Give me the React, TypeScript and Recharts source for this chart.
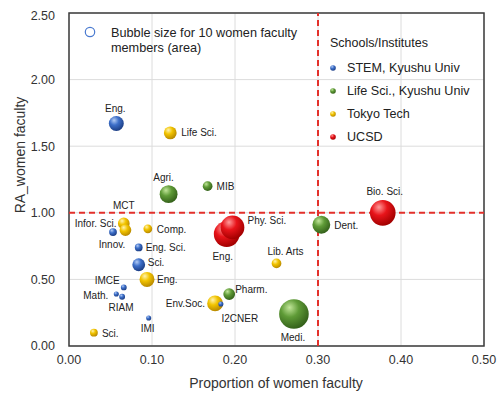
import {
  CartesianGrid,
  LabelList,
  ReferenceArea,
  ReferenceLine,
  Scatter,
  ScatterChart,
  XAxis,
  YAxis,
  ZAxis,
} from "recharts";

type Pt = { name: string; x: number; y: number; z: number };

// z = number of women faculty (bubble area)
const xTicks = [0, 0.1, 0.2, 0.3, 0.4, 0.5];
const yTicks = [0, 0.5, 1, 1.5, 2, 2.5];

const stemKyushu: Pt[] = [
  { name: "Eng.", x: 0.057, y: 1.67, z: 26 },
  { name: "Innov.", x: 0.053, y: 0.855, z: 7 },
  { name: "Eng. Sci.", x: 0.084, y: 0.74, z: 7 },
  { name: "Sci.", x: 0.084, y: 0.61, z: 19 },
  { name: "IMCE", x: 0.066, y: 0.44, z: 4 },
  { name: "Math.", x: 0.057, y: 0.39, z: 3 },
  { name: "RIAM", x: 0.064, y: 0.37, z: 4 },
  { name: "IMI", x: 0.096, y: 0.21, z: 3 },
  { name: "I2CNER", x: 0.183, y: 0.315, z: 3 },
];

const lifeKyushu: Pt[] = [
  { name: "Agri.", x: 0.12, y: 1.14, z: 37 },
  { name: "MIB", x: 0.167, y: 1.2, z: 11 },
  { name: "Dent.", x: 0.304, y: 0.91, z: 37 },
  { name: "Pharm.", x: 0.193, y: 0.39, z: 16 },
  { name: "Medi.", x: 0.271, y: 0.24, z: 102 },
];

const tokyoTech: Pt[] = [
  { name: "Life Sci.", x: 0.122, y: 1.6, z: 19 },
  { name: "MCT", x: 0.066, y: 0.92, z: 16 },
  { name: "Infor. Sci.", x: 0.068, y: 0.87, z: 16 },
  { name: "Comp.", x: 0.095, y: 0.88, z: 9 },
  { name: "Eng.", x: 0.094, y: 0.5, z: 26 },
  { name: "Lib. Arts", x: 0.25, y: 0.62, z: 11 },
  { name: "Env.Soc.", x: 0.176, y: 0.32, z: 29 },
  { name: "Sci.", x: 0.03, y: 0.1, z: 7 },
];

const ucsd: Pt[] = [
  { name: "Eng.", x: 0.19, y: 0.84, z: 77 },
  { name: "Phy. Sci.", x: 0.197, y: 0.89, z: 65 },
  { name: "Bio. Sci.", x: 0.378, y: 1.0, z: 77 },
];

const legendNames = ["STEM, Kyushu Univ", "Life Sci., Kyushu Univ", "Tokyo Tech", "UCSD"];
const legendKeys = ["blue", "green", "yellow", "red"];

const shades: Record<string, [string, string, string]> = {
  blue: ["#b3ccf5", "#3d6fc9", "#1d3f86"],
  green: ["#c2e69a", "#5f9b37", "#35621b"],
  yellow: ["#fff3b0", "#f2c400", "#b98a00"],
  red: ["#ff9a9a", "#e8141a", "#a30000"],
};

// label offsets from the bubble centre: [dx, dy, anchor]
const labelPos: Record<string, [number, number, "start" | "middle" | "end"]> = {
  "blue:Eng.": [-1, -15, "middle"],
  "blue:Innov.": [-1, 12, "middle"],
  "blue:Eng. Sci.": [7, 0, "start"],
  "blue:Sci.": [9, -2, "start"],
  "blue:IMCE": [-4, -7, "end"],
  "blue:Math.": [-8, 1, "end"],
  "blue:RIAM": [-1, 11, "middle"],
  "blue:IMI": [-1, 10, "middle"],
  "blue:I2CNER": [19, 14, "middle"],
  "green:Agri.": [-5, -17, "middle"],
  "green:MIB": [9, 0, "start"],
  "green:Dent.": [13, 1, "start"],
  "green:Pharm.": [6, -5, "start"],
  "green:Medi.": [-1, 23, "middle"],
  "yellow:Life Sci.": [11, 0, "start"],
  "yellow:MCT": [0, -18, "middle"],
  "yellow:Infor. Sci.": [-9, -7, "end"],
  "yellow:Comp.": [9, 1, "start"],
  "yellow:Eng.": [10, 0, "start"],
  "yellow:Lib. Arts": [9, -12, "middle"],
  "yellow:Env.Soc.": [-10, 0, "end"],
  "yellow:Sci.": [8, 1, "start"],
  "red:Phy. Sci.": [15, -7, "start"],
  "red:Eng.": [-4, 22, "middle"],
  "red:Bio. Sci.": [2, -21, "middle"],
};

const font = "'Liberation Sans', Arial, Helvetica, sans-serif";

const makeLabel = (key: string) => (props: any) => {
  const vb = props.viewBox ?? props;
  const cx = vb.width !== undefined ? vb.x + vb.width / 2 : vb.x;
  const cy = vb.height !== undefined ? vb.y + vb.height / 2 : vb.y;
  const [dx, dy, anchor] = labelPos[`${key}:${props.value}`] ?? [0, -12, "middle"];
  return (
    <text
      x={cx + dx}
      y={cy + dy}
      textAnchor={anchor}
      dominantBaseline="central"
      fontSize={10}
      fontFamily={font}
      fill="#222"
    >
      {props.value}
    </text>
  );
};

const fmt = (v: number) => v.toFixed(2);

const App = () => {
  const series: [string, Pt[]][] = [
    ["yellow", tokyoTech],
    ["green", lifeKyushu],
    ["blue", stemKyushu],
    ["red", ucsd],
  ];
  return (
    <div style={{ width: 500, height: 398, padding: "8px 0 0 8px", boxSizing: "border-box" }}>
      <style>{"body{margin:0}"}</style>
      <div style={{ position: "relative", width: 492, height: 390, fontFamily: font }}>
        <svg
          width={492}
          height={390}
          style={{ position: "absolute", left: 0, top: 0, pointerEvents: "none", zIndex: 2 }}
        >
          <defs>
            {Object.entries(shades).map(([k, [hi, mid, lo]]) => (
              <radialGradient key={k} id={`g-${k}`} cx="38%" cy="32%" r="68%" fx="35%" fy="28%">
                <stop offset="0%" stopColor={hi} />
                <stop offset="45%" stopColor={mid} />
                <stop offset="100%" stopColor={lo} />
              </radialGradient>
            ))}
          </defs>
          <circle cx={82} cy={24} r={4.7} fill="none" stroke="#4a7ad0" strokeWidth={1.2} />
          <text x={103} y={25} fontSize={12.7} fill="#222" dominantBaseline="central">
            Bubble size for 10 women faculty
          </text>
          <text x={103} y={39.5} fontSize={12.7} fill="#222" dominantBaseline="central">
            members (area)
          </text>
          <text x={322} y={35} fontSize={12.5} fill="#222" dominantBaseline="central">
            Schools/Institutes
          </text>
          {legendNames.map((n, i) => (
            <g key={n}>
              <circle cx={325} cy={60 + i * 23} r={2.8} fill={`url(#g-${legendKeys[i]})`} />
              <text x={339} y={60 + i * 23} fontSize={12.6} fill="#222" dominantBaseline="central">
                {n}
              </text>
            </g>
          ))}
          <text
            x={12}
            y={147}
            fontSize={14}
            fill="#333"
            textAnchor="middle"
            dominantBaseline="central"
            transform="rotate(-90 12 147)"
          >
            RA_women faculty
          </text>
          <text x={268} y={375} fontSize={14} fill="#333" textAnchor="middle" dominantBaseline="central">
            Proportion of women faculty
          </text>
        </svg>
        <ScatterChart width={492} height={390} margin={{ top: 5, right: 16, bottom: 2, left: 0 }}>
          <CartesianGrid stroke="#dcdcdc" />
          <XAxis
            type="number"
            dataKey="x"
            domain={[0, 0.5]}
            ticks={xTicks}
            tickFormatter={fmt}
            axisLine={false}
            tickLine={false}
            tickMargin={3}
            height={50}
            tick={{ fontSize: 12.5, fill: "#333", fontFamily: font }}
          />
          <YAxis
            type="number"
            dataKey="y"
            domain={[0, 2.5]}
            ticks={yTicks}
            tickFormatter={fmt}
            axisLine={false}
            tickLine={false}
            tickMargin={8}
            width={61}
            tick={{ fontSize: 12.5, fill: "#333", fontFamily: font }}
          />
          <ZAxis type="number" dataKey="z" domain={[0, 100]} range={[0, 690]} />
          <ReferenceLine x={0.3} stroke="#e3302b" strokeWidth={2} strokeDasharray="6 4" />
          <ReferenceLine y={1} stroke="#e3302b" strokeWidth={2} strokeDasharray="6 4" />
          <ReferenceArea x1={0} x2={0.5} y1={0} y2={2.5} fill="none" stroke="#3c3c3c" strokeWidth={1.5} />
          {series.map(([key, data]) => (
            <Scatter key={key} data={data} fill={`url(#g-${key})`} isAnimationActive={false}>
              <LabelList dataKey="name" content={makeLabel(key)} />
            </Scatter>
          ))}
        </ScatterChart>
      </div>
    </div>
  );
};

export default App;
